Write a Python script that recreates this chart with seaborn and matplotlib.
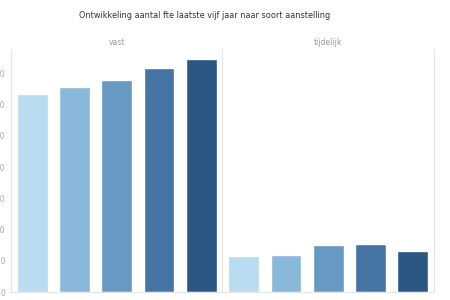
import matplotlib
matplotlib.use("Agg")
import matplotlib.pyplot as plt
import seaborn as sns
import pandas as pd

years = ["2019", "2020", "2021", "2022", "2023"]
vast = [634, 655, 679, 717, 746]
tijdelijk = [115, 119, 151, 155, 131]
panels = ["vast", "tijdelijk"]
yticks = [0, 100, 200, 300, 400, 500, 600, 700]
colors = ["#b9dcf0", "#8ab8db", "#6899c3", "#4674a4", "#2b5783"]
title = "Ontwikkeling aantal fte laatste vijf jaar naar soort aanstelling"

sns.set_theme(style="white")
plt.rcParams['font.family'] = ['DejaVu Sans']

fig = plt.figure(figsize=(4.5, 3), dpi=100)
left, right, bottom, top = 11/450, 434/450, 8/300, 250/300
w = (right - left) / 2
axes = [fig.add_axes([left, bottom, w, top - bottom]),
        fig.add_axes([left + w, bottom, w, top - bottom])]

for ax, name, vals in zip(axes, panels, [vast, tijdelijk]):
    df = pd.DataFrame({"jaar": years, "fte": vals})
    sns.barplot(data=df, x="jaar", y="fte", hue="jaar", palette=colors,
                legend=False, width=0.73, ax=ax, saturation=1)
    ax.set_xlim(-0.5, 4.5)
    ax.set_ylim(0, 775)
    ax.set_xlabel("")
    ax.set_ylabel("")
    ax.set_xticks([])
    ax.set_yticks(yticks)
    for s in ["left", "right", "bottom"]:
        ax.spines[s].set_color("#e4e4e4")
        ax.spines[s].set_linewidth(0.8)
    ax.spines["top"].set_visible(False)
    ax.text(0.5, 1.03, name, transform=ax.transAxes, ha="center", va="center",
            fontsize=5.5, color="#999999")

axes[0].tick_params(axis="y", length=0, pad=4, labelsize=5.5, labelcolor="#aaaaaa")
axes[0].spines["right"].set_visible(False)
axes[1].tick_params(axis="y", length=0, labelleft=False)

fig.text(205/450, 1 - 15/300, title, ha="center", va="center", fontsize=5.9,
         color="#333333", fontweight="medium")

fig.savefig("out.png", dpi=100)
